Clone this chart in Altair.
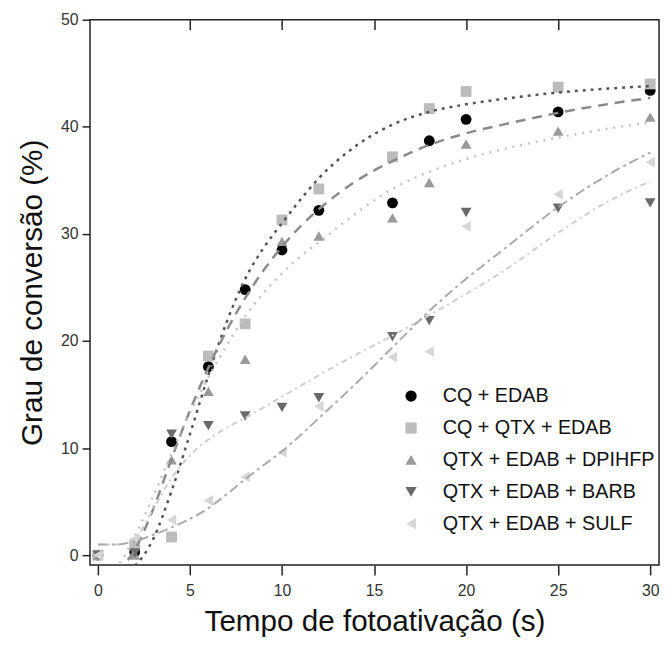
import altair as alt
import pandas as pd

# ---------------- data ----------------
series_names = ["CQ + EDAB", "CQ + QTX + EDAB", "QTX + EDAB + DPIHFP",
                "QTX + EDAB + BARB", "QTX + EDAB + SULF"]

times = [0, 2, 4, 6, 8, 10, 12, 16, 18, 20, 25, 30]
cq_edab = [0, 0.3, 10.6, 17.6, 24.8, 28.5, 32.2, 32.9, 38.7, 40.7, 41.4, 43.4]
cq_qtx_edab = [0, 1.0, 1.7, 18.6, 21.6, 31.3, 34.2, 37.2, 41.7, 43.3, 43.7, 44.0]
qtx_dpihfp = [0, 0, 8.9, 15.3, 18.3, 29.3, 29.8, 31.5, 34.8, 38.4, 39.6, 40.9]
qtx_barb = [0, 0.2, 11.3, 12.1, 13.0, 13.8, 14.7, 20.4, 21.9, 32.0, 32.4, 32.9]
qtx_sulf = [0, 1.5, 3.3, 5.1, 7.3, 9.6, 13.9, 18.5, 19.0, 30.7, 33.7, 36.7]

# fitted curves
fit_t = [0, 1, 2, 3, 4, 5, 6, 7, 8, 9, 10, 11, 12, 14, 16, 18, 20, 22, 25, 28, 30]
fit_cq_qtx_edab = [-2.0, -1.8, -1.0, 1.5, 6.0, 11.3, 16.8, 21.8, 25.8, 28.7, 31.0,
                   33.2, 35.2, 38.2, 40.2, 41.4, 42.1, 42.6, 43.2, 43.6, 43.8]
fit_cq_edab = [-1.5, -1.3, 0.5, 4.3, 9.0, 13.5, 17.5, 21.0, 24.0, 26.6, 28.8,
               30.7, 32.3, 34.9, 36.8, 38.3, 39.4, 40.2, 41.3, 42.2, 42.7]
fit_dpihfp = [-1.5, -1.0, 1.8, 5.5, 9.5, 13.3, 16.6, 19.6, 22.3, 24.5, 26.3,
              27.9, 29.2, 31.9, 34.2, 35.8, 37.0, 37.9, 39.0, 39.9, 40.4]
fit_barb = [1.0, 1.0, 1.6, 4.3, 7.2, 9.3, 10.8, 11.9, 12.8, 13.8, 14.8,
            15.8, 16.8, 18.7, 20.5, 22.4, 24.4, 26.5, 30.1, 33.3, 34.9]
fit_sulf = [1.0, 1.0, 1.3, 1.9, 2.6, 3.4, 4.4, 5.7, 7.1, 8.4, 9.7,
            11.2, 12.8, 16.0, 19.4, 22.8, 25.8, 28.5, 32.5, 35.8, 37.6]

x_ticks = [0, 5, 10, 15, 20, 25, 30]
x_top_ticks = [5, 10, 15, 20, 25]
y_ticks = [0, 10, 20, 30, 40, 50]

# ---------------- styling ----------------
point_colors = ["#000000", "#bcbcbc", "#9a9a9a", "#6a6a6a", "#d6d6d6"]
point_shapes = ["circle", "square", "triangle-up", "triangle-down", "triangle-left"]

FONT = "Liberation Sans"

pts_rows = []
for name, vals in zip(series_names, [cq_edab, cq_qtx_edab, qtx_dpihfp, qtx_barb, qtx_sulf]):
    for t, v in zip(times, vals):
        pts_rows.append({"series": name, "t": t, "v": v})
pts = pd.DataFrame(pts_rows)

fit_rows = []
for name, vals in zip(series_names, [fit_cq_edab, fit_cq_qtx_edab, fit_dpihfp, fit_barb, fit_sulf]):
    for t, v in zip(fit_t, vals):
        fit_rows.append({"series": name, "t": t, "v": v})
fits = pd.DataFrame(fit_rows)

xscale = alt.Scale(domain=[-0.43, 30.48], nice=False, zero=False)
yscale = alt.Scale(domain=[-0.92, 50], nice=False, zero=False)

bottom_axis = alt.Axis(values=x_ticks, domain=False, tickSize=10, tickColor="#222",
                       tickWidth=1.5, labelFontSize=16, labelColor="#333", labelFont=FONT,
                       labelPadding=8, grid=False, title="Tempo de fotoativação (s)",
                       titleFontSize=30, titleFont=FONT, titleFontWeight="normal",
                       titleColor="#111", titlePadding=8)
left_axis = alt.Axis(values=y_ticks, domain=False, tickSize=8, tickColor="#222",
                     tickWidth=1.5, labelFontSize=16, labelColor="#333", labelFont=FONT,
                     labelPadding=4, grid=False, title="Grau de conversão (%)",
                     titleFontSize=30, titleFont=FONT, titleFontWeight="normal",
                     titleColor="#111", titlePadding=13)
top_axis = alt.Axis(orient="top", values=x_top_ticks, domain=False, labels=False,
                    tickSize=10, offset=-10, tickColor="#222", tickWidth=1.5,
                    grid=False, title=None)

legend = alt.Legend(orient="none", legendX=315, legendY=371, title=None,
                    labelFontSize=20, labelFont=FONT, labelColor="#111", labelLimit=0,
                    symbolSize=130, symbolStrokeWidth=0, rowPadding=12.3,
                    labelOffset=22, padding=0)

points = alt.Chart(pts).mark_point(filled=True, opacity=1, size=120).encode(
    x=alt.X("t:Q", scale=xscale, axis=bottom_axis),
    y=alt.Y("v:Q", scale=yscale, axis=left_axis),
    color=alt.Color("series:N", scale=alt.Scale(domain=series_names, range=point_colors),
                    legend=legend),
    shape=alt.Shape("series:N", scale=alt.Scale(domain=series_names, range=point_shapes),
                    legend=legend),
)

line_styles = {
    "CQ + QTX + EDAB": ("#555555", [3, 5], 2.5),
    "CQ + EDAB": ("#8a8a8a", [10, 7], 2.5),
    "QTX + EDAB + DPIHFP": ("#c2c2c2", [2, 6], 2.5),
    "QTX + EDAB + BARB": ("#cdcdcd", [6, 4, 2, 4], 2),
    "QTX + EDAB + SULF": ("#ababab", [10, 4, 3, 4], 2),
}

layers = [points]
first = True
for name in ["CQ + QTX + EDAB", "CQ + EDAB", "QTX + EDAB + DPIHFP",
             "QTX + EDAB + BARB", "QTX + EDAB + SULF"]:
    color, dash, w = line_styles[name]
    ln = alt.Chart(fits).transform_filter(alt.datum.series == name).mark_line(
        color=color, strokeDash=dash, strokeWidth=w, interpolate="monotone", clip=True
    ).encode(
        x=alt.X("t:Q", scale=xscale, axis=top_axis if first else None),
        y=alt.Y("v:Q", scale=yscale, axis=left_axis),
        order="t:Q",
    )
    first = False
    layers.append(ln)

chart = alt.layer(*layers).resolve_axis(x="independent").properties(
    width=576, height=552,
    autosize=alt.AutoSizeParams(type="none"),
    padding={"left": 83, "top": 8, "right": 2, "bottom": 70},
).configure_view(stroke="#222", strokeWidth=1.5)

chart.save("out.html", embed_options={"renderer": "svg", "actions": False})
